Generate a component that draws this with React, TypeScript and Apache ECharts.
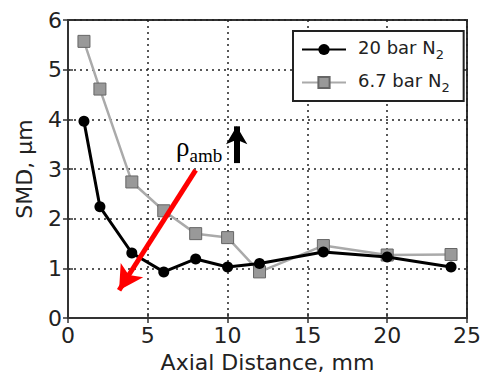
import React, { useEffect, useRef } from "react";
import * as echarts from "echarts";

const distances = [1, 2, 4, 6, 8, 10, 12, 16, 20, 24];
const smd20bar = [3.96, 2.24, 1.31, 0.93, 1.19, 1.03, 1.1, 1.33, 1.23, 1.03];
const smd67bar = [5.57, 4.61, 2.74, 2.16, 1.7, 1.62, 0.93, 1.46, 1.27, 1.28];
const seriesNames = ["20 bar N", "6.7 bar N"];
const redArrow = [[8.0, 2.98], [3.2, 0.56]];
const blackArrow = [[10.57, 3.12], [10.57, 3.86]];

export default function App() {
  const ref = useRef<HTMLDivElement>(null);
  useEffect(() => {
    const chart = echarts.init(ref.current!, null, { renderer: "svg" });
    const font = "DejaVu Sans";
    const splitStyle = { show: true, lineStyle: { type: [2, 4] as any, color: "#222", width: 1.5 } };
    chart.setOption({
      animation: false,
      backgroundColor: "#fff",
      textStyle: { fontFamily: font },
      grid: { left: 68, right: 14, top: 20, bottom: 56, show: true, borderColor: "#333", borderWidth: 2 },
      legend: {
        orient: "vertical",
        left: 293,
        top: 31,
        backgroundColor: "#fff",
        borderColor: "#222",
        borderWidth: 2,
        padding: [7, 14, 7, 8],
        itemGap: 10,
        itemWidth: 44,
        itemHeight: 14,
        data: seriesNames,
        formatter: (n: string) => `{a|${n}}{s|2}`,
        textStyle: {
          color: "#222",
          rich: {
            a: { fontSize: 18, fontFamily: font, color: "#222", padding: [0, 0, 5, 7], verticalAlign: "bottom" },
            s: { fontSize: 13, fontFamily: font, color: "#222", verticalAlign: "bottom" },
          },
        },
      },
      xAxis: [
        {
          type: "value",
          min: 0,
          max: 25,
          interval: 5,
          name: "Axial Distance, mm",
          nameLocation: "middle",
          nameGap: 32,
          nameTextStyle: { fontSize: 22, color: "#222", fontFamily: font },
          axisLine: { show: true, lineStyle: { color: "#333", width: 2 } },
          axisTick: { show: true, inside: true, length: 5, lineStyle: { color: "#333", width: 1.5 } },
          axisLabel: { fontSize: 22, color: "#222", margin: 6, fontFamily: font },
          splitLine: splitStyle,
        },
        {
          type: "value",
          position: "top",
          min: 0,
          max: 25,
          interval: 5,
          axisLine: { show: false },
          axisTick: { show: true, inside: true, length: 5, lineStyle: { color: "#333", width: 1.5 } },
          axisLabel: { show: false },
          splitLine: { show: false },
        },
      ],
      yAxis: [
        {
          type: "value",
          min: 0,
          max: 6,
          interval: 1,
          name: "SMD, μm",
          nameLocation: "middle",
          nameGap: 33,
          nameTextStyle: { fontSize: 22, color: "#222", fontFamily: font },
          axisLine: { show: true, lineStyle: { color: "#333", width: 2 } },
          axisTick: { show: true, inside: true, length: 5, lineStyle: { color: "#333", width: 1.5 } },
          axisLabel: { fontSize: 22, color: "#222", margin: 6, fontFamily: font },
          splitLine: splitStyle,
        },
        {
          type: "value",
          position: "right",
          min: 0,
          max: 6,
          interval: 1,
          axisLine: { show: false },
          axisTick: { show: true, inside: true, length: 5, lineStyle: { color: "#333", width: 1.5 } },
          axisLabel: { show: false },
          splitLine: { show: false },
        },
      ],
      series: [
        {
          name: seriesNames[1],
          type: "line",
          data: distances.map((d, i) => [d, smd67bar[i]]),
          symbol: "rect",
          symbolSize: 12,
          lineStyle: { color: "#aaa", width: 2.5 },
          itemStyle: { color: "#999", borderColor: "#666", borderWidth: 1 },
          z: 2,
        },
        {
          name: seriesNames[0],
          type: "line",
          data: distances.map((d, i) => [d, smd20bar[i]]),
          symbol: "circle",
          symbolSize: 11,
          lineStyle: { color: "#000", width: 3 },
          itemStyle: { color: "#000" },
          z: 3,
          markLine: {
            silent: true,
            animation: false,
            label: { show: false },
            data: [
              [
                { coord: redArrow[0], symbol: "none", lineStyle: { color: "#f00", width: 5, type: "solid" } },
                { coord: redArrow[1], symbol: "arrow", symbolSize: [20, 24] },
              ],
              [
                { coord: blackArrow[0], symbol: "none", lineStyle: { color: "#000", width: 6, type: "solid" } },
                { coord: blackArrow[1], symbol: "arrow", symbolSize: [16, 18] },
              ],
            ],
          },
        },
      ],
      graphic: [
        {
          type: "text",
          left: 176,
          top: 133,
          z: 10,
          style: {
            text: "{r|ρ}{s|amb}",
            rich: {
              r: { fontSize: 27, fontFamily: "Liberation Serif", fill: "#000", padding: [0, 0, 5, 0], verticalAlign: "bottom" },
              s: { fontSize: 19, fontFamily: "Liberation Serif", fill: "#000", verticalAlign: "bottom" },
            },
          },
        },
      ],
    });
    return () => chart.dispose();
  }, []);
  return <div ref={ref} style={{ width: 484, height: 378, position: "absolute", left: 0, top: 0 }} />;
}
